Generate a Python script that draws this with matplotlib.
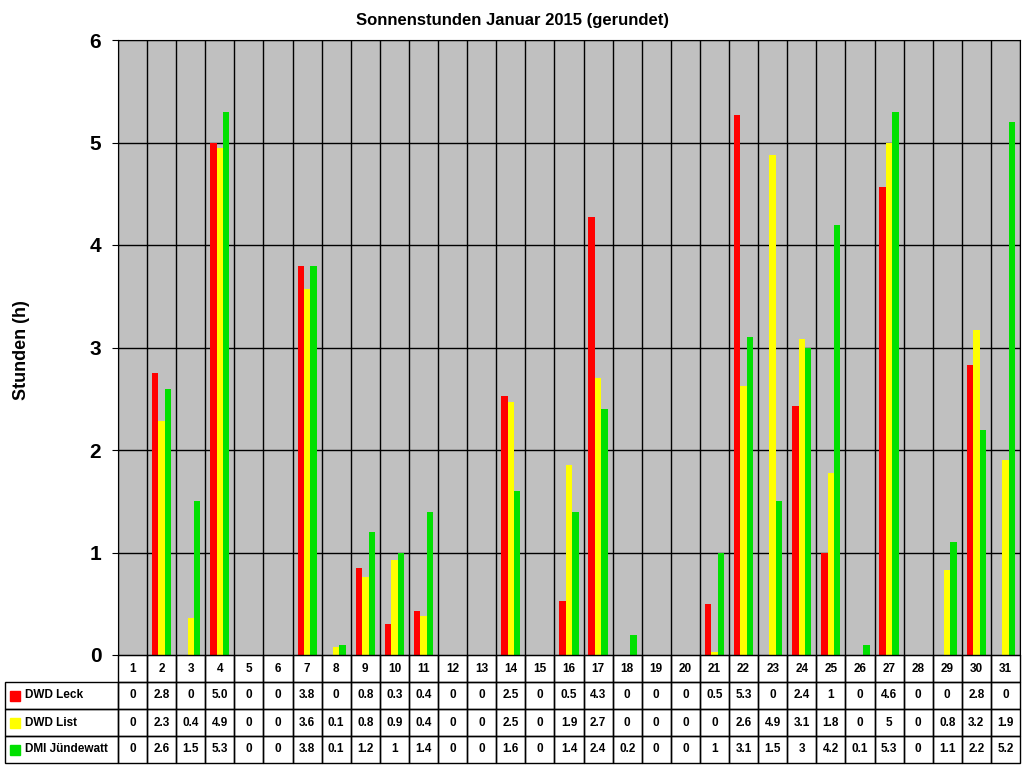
import matplotlib
matplotlib.use("Agg")
import matplotlib.pyplot as plt
import numpy as np
from matplotlib.patches import Rectangle

days = [str(i) for i in range(1, 32)]
leck = [0,2.75,0,5.0,0,0,3.8,0,0.85,0.3,0.43,0,0,2.53,0,0.53,4.27,0,0,0,0.5,5.27,0,2.43,1.0,0,4.57,0,0,2.83,0]
lst = [0,2.28,0.36,4.95,0,0,3.57,0.08,0.76,0.93,0.38,0,0,2.47,0,1.85,2.7,0,0,0,0.03,2.62,4.88,3.08,1.78,0,5.0,0,0.83,3.17,1.9]
dmi = [0,2.6,1.5,5.3,0,0,3.8,0.1,1.2,1.0,1.4,0,0,1.6,0,1.4,2.4,0.2,0,0,1.0,3.1,1.5,3.0,4.2,0.1,5.3,0,1.1,2.2,5.2]
leck_lbl = "0 2.8 0 5.0 0 0 3.8 0 0.8 0.3 0.4 0 0 2.5 0 0.5 4.3 0 0 0 0.5 5.3 0 2.4 1 0 4.6 0 0 2.8 0".split()
list_lbl = "0 2.3 0.4 4.9 0 0 3.6 0.1 0.8 0.9 0.4 0 0 2.5 0 1.9 2.7 0 0 0 0 2.6 4.9 3.1 1.8 0 5 0 0.8 3.2 1.9".split()
dmi_lbl = "0 2.6 1.5 5.3 0 0 3.8 0.1 1.2 1 1.4 0 0 1.6 0 1.4 2.4 0.2 0 0 1 3.1 1.5 3 4.2 0.1 5.3 0 1.1 2.2 5.2".split()
series = ["DWD Leck", "DWD List", "DMI Jündewatt"]
colors = ["#FF0000", "#FFFF00", "#00E000"]

plt.rcParams['font.family'] = ['Liberation Sans', 'DejaVu Sans']
fig = plt.figure(figsize=(10.24, 7.68), dpi=100)
W, H = 1024, 768
L, R, T, B = 118, 1020, 40, 655
ax = fig.add_axes([L/W, 1-B/H, (R-L)/W, (B-T)/H])
ax.set_facecolor("#C0C0C0")
x = np.arange(31)
bw = 0.22
for i, (vals, c) in enumerate(zip([leck, lst, dmi], colors)):
    ax.bar(x + (i-1)*bw, vals, bw, color=c, zorder=3)
ax.set_xlim(-0.5, 30.5)
ax.set_ylim(0, 6)
ax.set_yticks(range(7))
ax.tick_params(axis='y', labelsize=15, length=4, pad=8)
for lab in ax.get_yticklabels():
    lab.set_fontweight('bold')
ax.set_xticks([])
for k in range(32):
    ax.axvline(k-0.5, color='black', lw=1, zorder=2)
for yv in range(1, 7):
    ax.axhline(yv, color='black', lw=1, zorder=2)
fig.text(22/W, 1-350/H, "Stunden (h)", fontsize=13, fontweight='bold', rotation=90, ha='center', va='center')
fig.text(512/W, 1-20/H, "Sonnenstunden Januar 2015 (gerundet)", ha='center', va='center', fontsize=12, fontweight='bold')

rows = [days, leck_lbl, list_lbl, dmi_lbl]
rowh = 27
tl = 5
cw = (R-L)/31
for r in range(4):
    y0 = B + r*rowh
    if r > 0:
        fig.add_artist(Rectangle((tl/W, 1-(y0+rowh)/H), (L-tl)/W, rowh/H, fill=False, ec='black', lw=1, transform=fig.transFigure))
        fig.add_artist(Rectangle((10/W, 1-(y0+rowh/2+5)/H), 10/W, 10/H, color=colors[r-1], transform=fig.transFigure))
        fig.text(25/W, 1-(y0+rowh/2)/H, series[r-1], fontsize=8.5, fontweight='bold', va='center')
    for j in range(31):
        x0 = L + j*cw
        fig.add_artist(Rectangle((x0/W, 1-(y0+rowh)/H), cw/W, rowh/H, fill=False, ec='black', lw=1, transform=fig.transFigure))
        fig.text((x0+cw/2)/W, 1-(y0+rowh/2)/H, rows[r][j], fontsize=8.5, fontweight='bold', ha='center', va='center')
fig.savefig("out.png", dpi=100, facecolor='white')
